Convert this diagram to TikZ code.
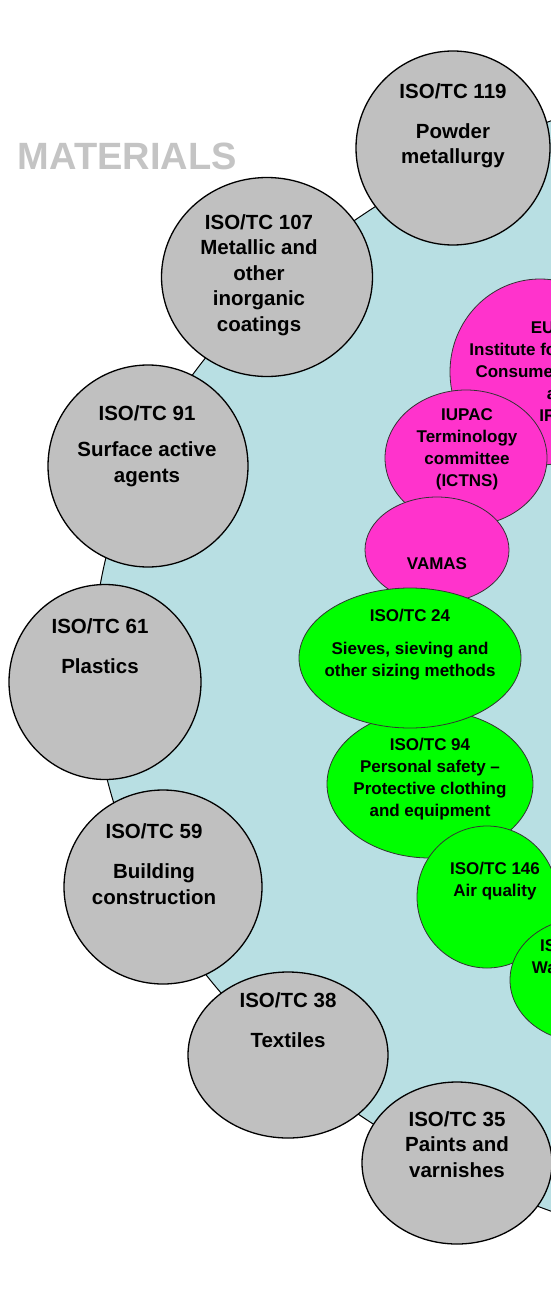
\documentclass[tikz,border=0pt]{standalone}
\usepackage{fontspec}
\setmainfont{Liberation Sans}
\usetikzlibrary{shapes.geometric}
\definecolor{skyfill}{RGB}{184,223,227}
\definecolor{silverfill}{RGB}{192,192,192}
\definecolor{pinkfill}{RGB}{255,51,204}
\definecolor{greenfill}{RGB}{0,255,0}
\definecolor{matgray}{RGB}{196,196,196}
\begin{document}
\begin{tikzpicture}[line cap=round,line join=round,x=1pt,y=-1pt,
  tcgray/.style={ellipse,draw=black,line width=1.3pt,fill=silverfill,inner sep=0pt},
  tcpink/.style={ellipse,draw=black!80,line width=0.8pt,fill=pinkfill,inner sep=0pt},
  tcgreen/.style={ellipse,draw=black!80,line width=0.8pt,fill=greenfill,inner sep=0pt},
  graytext/.style={font=\fontsize{20.5}{25.5}\selectfont\bfseries,align=center,anchor=base,inner sep=0pt},
  smalltext/.style={font=\fontsize{17}{22}\selectfont\bfseries,align=center,anchor=base,inner sep=0pt}]
				\useasboundingbox (0,0) rectangle (551,1316);
				\clip (0,0) rectangle (551,1316);
				\fill [white] (0,0) rectangle (551,1316);
				\node [ellipse,draw=black,line width=1pt,fill=skyfill,minimum width=1610pt,minimum height=1208pt,inner sep=0pt] (field) at (898,666) {};
				\node [font=\fontsize{38}{40}\selectfont\bfseries,text=matgray,anchor=base east,inner sep=0pt] (title) at (237,170) {MATERIALS};
				\node [tcgray,minimum width=194pt,minimum height=194pt] (tc119) at (453,148) {};
				\node [tcgray,minimum width=211pt,minimum height=199pt] (tc107) at (267,277) {};
				\node [tcgray,minimum width=200pt,minimum height=202pt] (tc91) at (148,466) {};
				\node [tcgray,minimum width=192pt,minimum height=195pt] (tc61) at (105,682) {};
				\node [tcgray,minimum width=198pt,minimum height=194pt] (tc59) at (163,887) {};
				\node [tcgray,minimum width=200pt,minimum height=166pt] (tc38) at (288,1055) {};
				\node [tcgray,minimum width=190pt,minimum height=162pt] (tc35) at (457,1163) {};
				\node [tcpink,minimum width=180pt,minimum height=186pt] (jrc) at (540,372) {};
				\node [tcpink,minimum width=162pt,minimum height=136pt] (iupac) at (466,458) {};
				\node [tcpink,minimum width=144pt,minimum height=106pt] (vamas) at (437,550) {};
				\node [tcgreen,minimum width=206pt,minimum height=148pt] (tc94) at (430,784) {};
				\node [tcgreen,minimum width=222pt,minimum height=140pt] (tc24) at (410,658) {};
				\node [tcgreen,minimum width=140pt,minimum height=142pt] (tc146) at (487,897) {};
				\node [tcgreen,minimum width=150pt,minimum height=124pt] (tc147) at (585,980) {};
				\node [graytext] (tc119-t) at (453,164) {ISO/TC 119\\[14pt]Powder\\metallurgy};
				\node [graytext] (tc107-t) at (259,331) {ISO/TC 107\\Metallic and\\other\\inorganic\\coatings};
				\node [graytext] (tc91-t) at (147,482) {ISO/TC 91\\[11pt]Surface active\\agents};
				\node [graytext] (tc61-t) at (100,673) {ISO/TC 61\\[14pt]Plastics};
				\node [graytext] (tc59-t) at (154,904) {ISO/TC 59\\[15pt]Building\\construction};
				\node [graytext] (tc38-t) at (288,1047) {ISO/TC 38\\[14pt]Textiles};
				\node [graytext] (tc35-t) at (457,1177) {ISO/TC 35\\Paints and\\varnishes};
				\node [smalltext] (jrc-t) at (562,421) {EU JRC\\Institute for Health and\\Consumer Protection\\and\\IRMM};
				\node [smalltext] (iupac-t) at (467,486) {IUPAC\\Terminology\\committee\\(ICTNS)};
				\node [smalltext] (vamas-t) at (437,569) {VAMAS};
				\node [smalltext] (tc24-t) at (410,676) {ISO/TC 24\\[11pt]Sieves, sieving and\\other sizing methods};
				\node [smalltext] (tc94-t) at (430,816) {ISO/TC 94\\Personal safety --\\Protective clothing\\and equipment};
				\node [smalltext] (tc146-t) at (495,896) {ISO/TC 146\\Air quality};
				\node [smalltext] (tc147-t) at (585,973) {ISO/TC 147\\Water quality};
			\end{tikzpicture}
\end{document}
